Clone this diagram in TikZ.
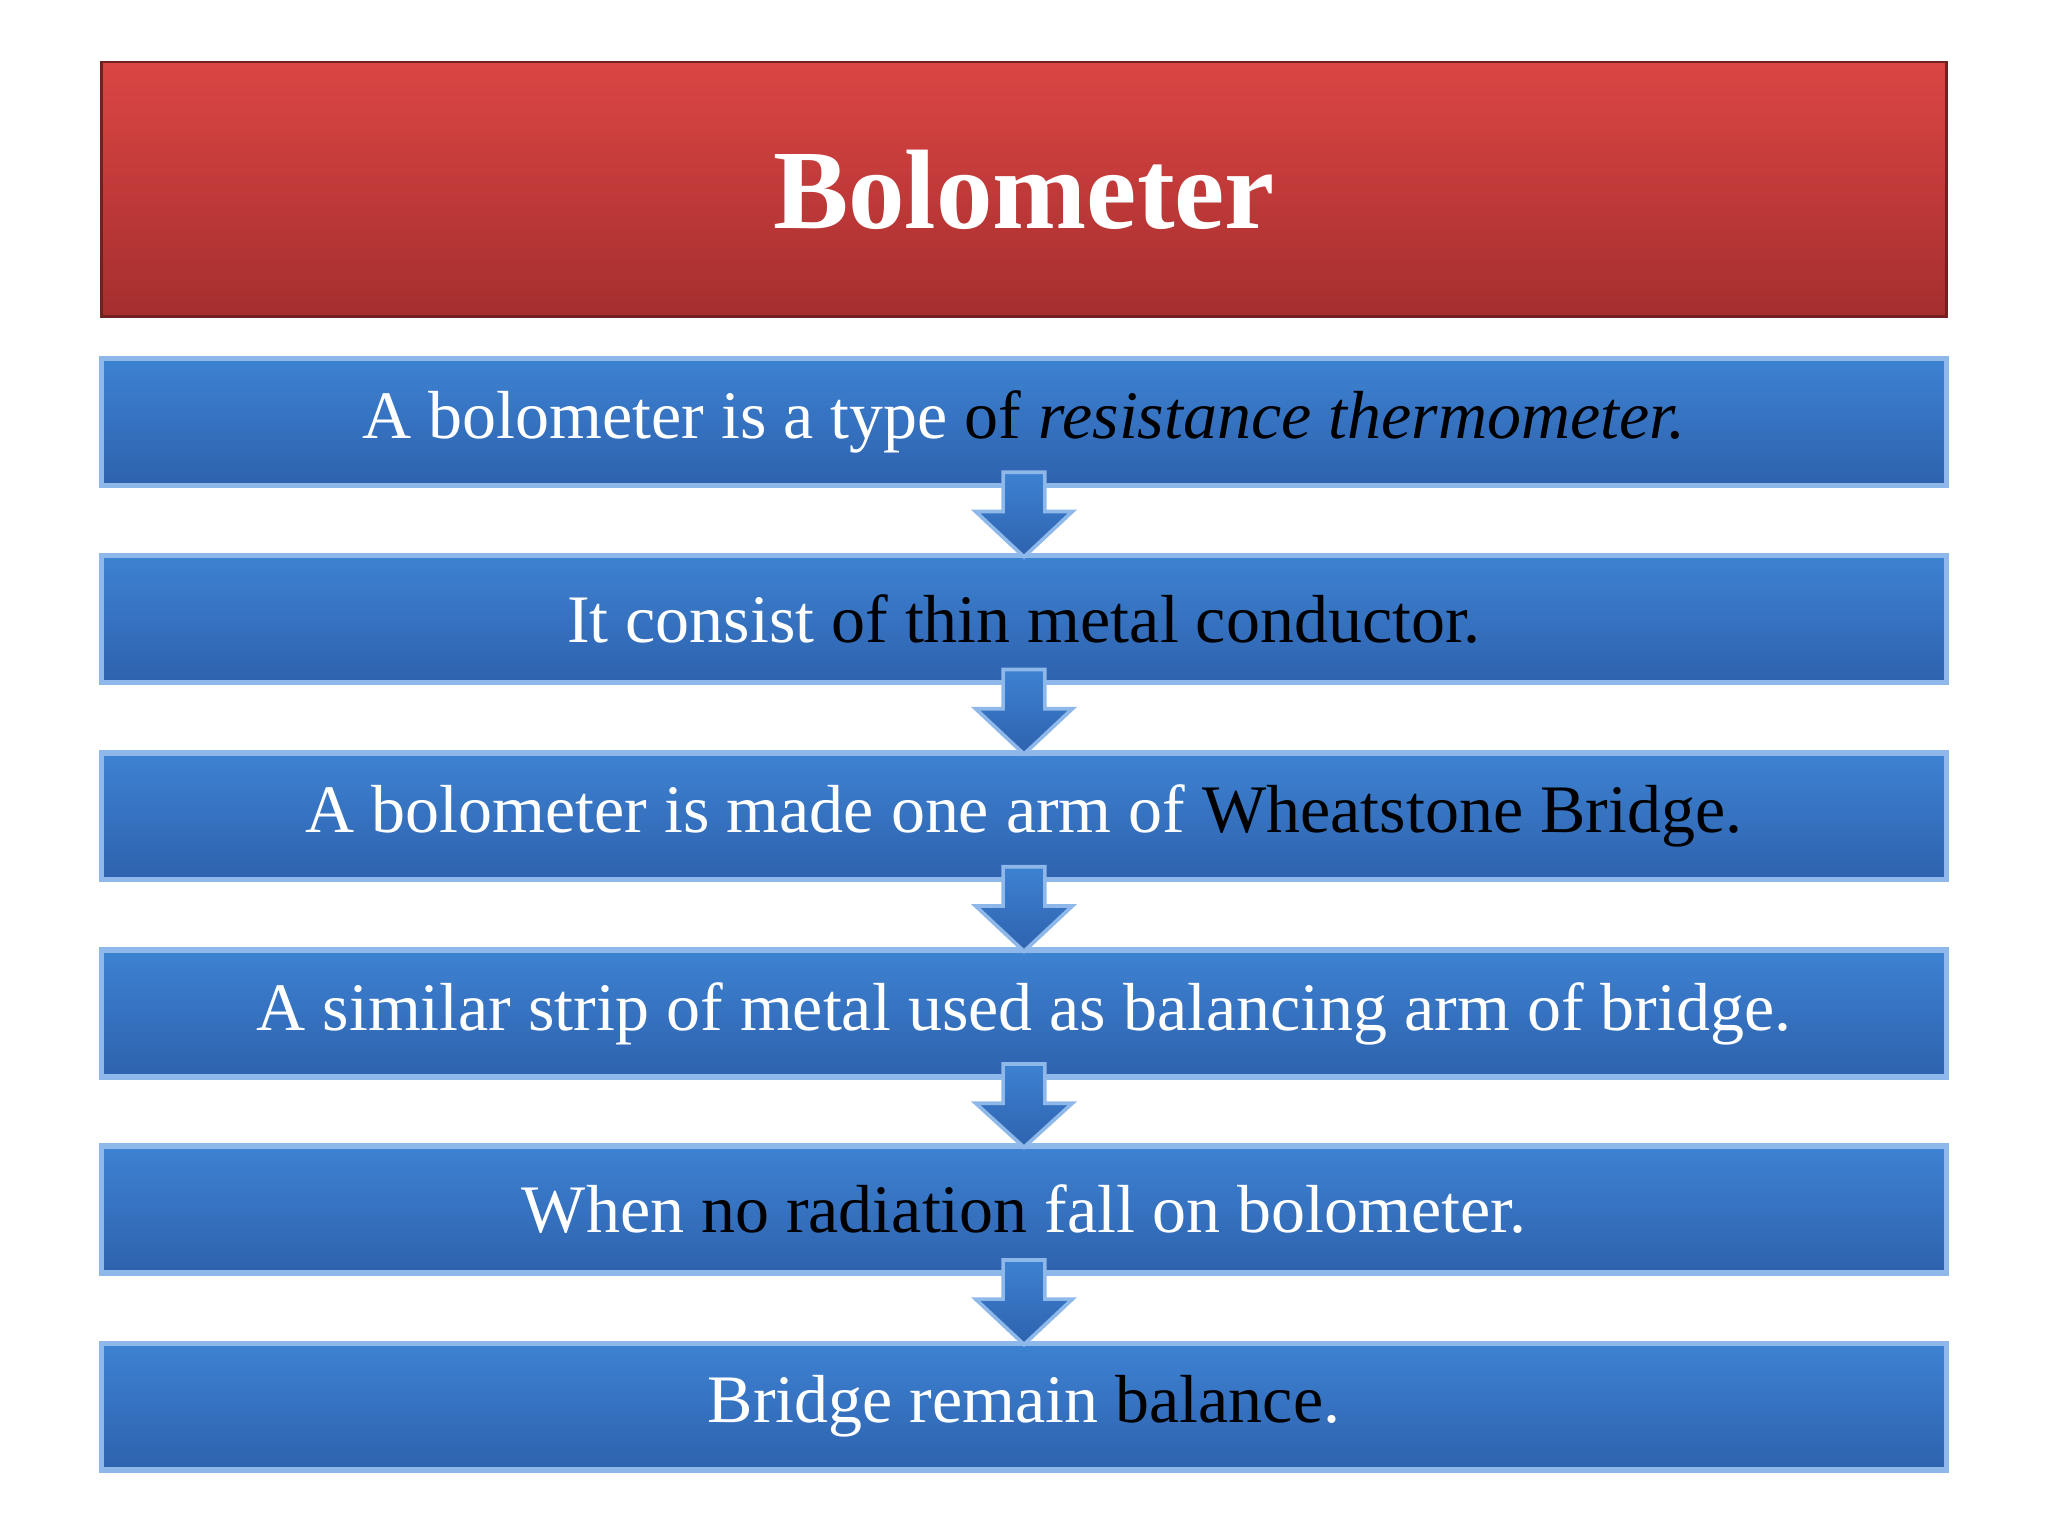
\documentclass[tikz,border=0pt]{standalone}
\usepackage{fontspec}
\setmainfont{Liberation Serif}
\definecolor{tred}{HTML}{DB4644}
\definecolor{bred}{HTML}{A52E2E}
\definecolor{tblue}{HTML}{3D82D2}
\definecolor{bblue}{HTML}{2E62AE}
\definecolor{eblue}{HTML}{8FB8EA}
\tikzset{
  titlebox/.style={draw=bred!70!black, line width=0.6pt, top color=tred, bottom color=bred, minimum width=14.12cm, minimum height=1.95cm, inner sep=0pt, text=white, font=\fontsize{24.6}{28}\selectfont\bfseries},
  stepbox/.style={draw=eblue, line width=1.2pt, top color=tblue, bottom color=bblue, minimum width=14.12cm, minimum height=0.97cm, inner sep=0pt, text=white, font=\fontsize{14.8}{18}\selectfont},
  darrow/.style={fill=bblue, draw=eblue, line width=0.8pt, top color=tblue, bottom color=bblue}
}
\begin{document}
\begin{tikzpicture}[x=0.01cm,y=-0.01cm]
\useasboundingbox (0,0) rectangle (1568,1176);
\node[titlebox] (t) at (784,145) {Bolometer};
\newcommand{\bk}{\color{black}}
\node[stepbox] (b1) at (784,323) {A bolometer is a type {\bk of \textit{resistance thermometer.}}};
\node[stepbox] (b2) at (784,474) {It consist {\bk of thin metal conductor.}};
\node[stepbox] (b3) at (784,625) {A bolometer is made one arm of {\bk Wheatstone Bridge.}};
\node[stepbox] (b4) at (784,776) {A similar strip of metal used as balancing arm of bridge.};
\node[stepbox] (b5) at (784,926) {When {\bk no radiation} fall on bolometer.};
\node[stepbox] (b6) at (784,1077) {Bridge remain {\bk balance}.};
\foreach \a/\b in {b1/b2,b2/b3,b3/b4,b4/b5,b5/b6}{
  \path[darrow] ([xshift=-0.16cm,yshift=0.12cm]\a.south) -- ([xshift=0.16cm,yshift=0.12cm]\a.south)
    -- ([xshift=0.16cm,yshift=-0.18cm]\a.south) -- ([xshift=0.37cm,yshift=-0.18cm]\a.south)
    -- ([yshift=-0.03cm]\b.north) -- ([xshift=-0.37cm,yshift=-0.18cm]\a.south)
    -- ([xshift=-0.16cm,yshift=-0.18cm]\a.south) -- cycle;
}
\end{tikzpicture}
\end{document}
